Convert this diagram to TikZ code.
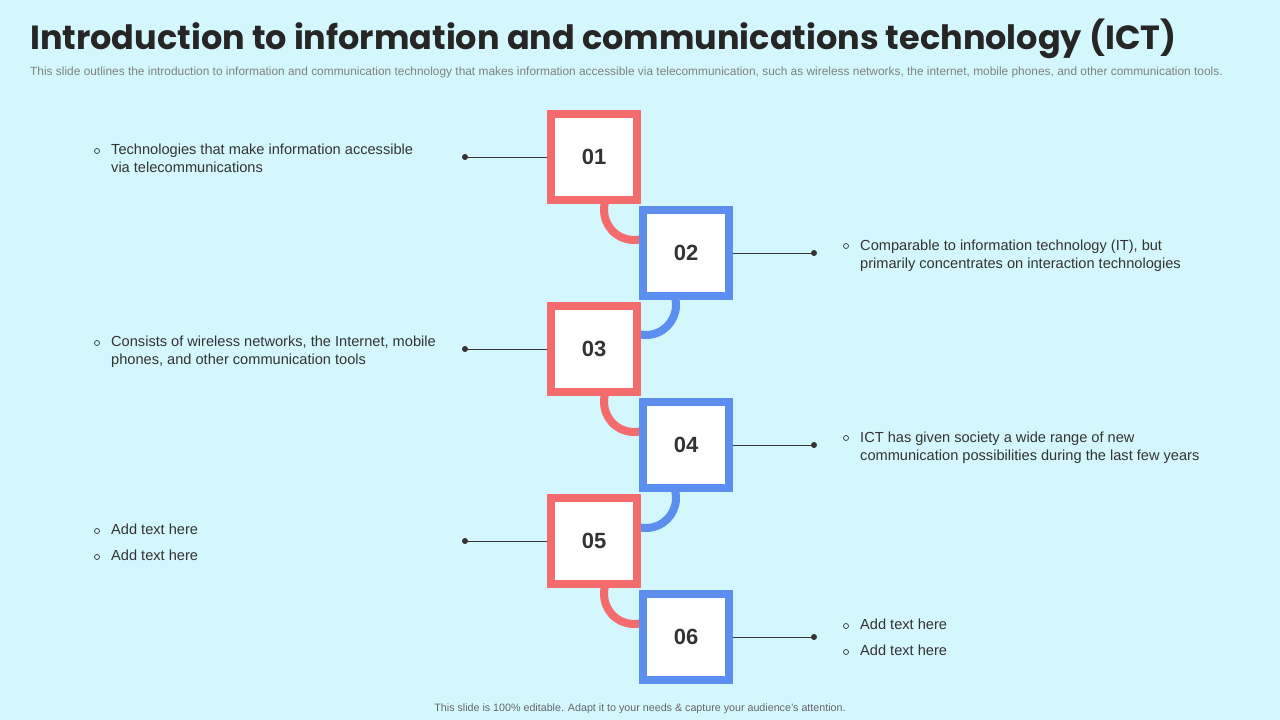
\documentclass[tikz,border=0pt]{standalone}
\usepackage{fontspec}
\setmainfont{Liberation Sans}
\newfontfamily\titlefont{Poppins}
\definecolor{bg}{HTML}{D3F7FC}
\definecolor{rd}{HTML}{F46B6B}
\definecolor{bl}{HTML}{5C8EF0}
\definecolor{tx}{HTML}{333333}
\begin{document}
\begin{tikzpicture}[x=1pt,y=-1pt,
 boxr/.style={draw=rd,line width=8pt,fill=white,minimum size=86pt,inner sep=0pt,font=\bfseries\fontsize{22}{24}\selectfont,text=tx},
 boxb/.style={boxr,draw=bl},
 lead/.style={draw=tx,line width=0.8pt},
 dotn/.style={circle,fill=tx,inner sep=0pt,minimum size=6pt},
 txt/.style={anchor=north west,align=left,font=\fontsize{14.6}{18}\selectfont,text=tx,inner sep=0pt},
 bul/.style={circle,draw=tx,line width=0.7pt,inner sep=0pt,minimum size=5pt}]
\fill[bg] (0,0) rectangle (1280,720);
\useasboundingbox (0,0) rectangle (1280,720);
\node[anchor=west,inner sep=0pt,font=\titlefont\bfseries\fontsize{33.5}{36}\selectfont,text=black!85] (title) at (30,39) {Introduction to information and communications technology (ICT)};
\node[anchor=west,inner sep=0pt,font=\fontsize{11.9}{13}\selectfont,text=black!50] (sub) at (30,72) {This slide outlines the introduction to information and communication technology that makes information accessible via telecommunication, such as wireless networks, the internet, mobile phones, and other communication tools.};
\node[inner sep=0pt,font=\fontsize{10.7}{12}\selectfont,text=black!60] (foot) at (640,709) {This slide is 100\% editable.  Adapt it to your needs \& capture your audience's attention.};
% arcs
\foreach \y in {210,402,594}{
 \draw[rd,line width=8pt] (634,\y) ++(205:30) arc[start angle=205,end angle=20,radius=30];}
\foreach \y in {305,498}{
 \draw[bl,line width=8pt] (646,\y) ++(-100:30) arc[start angle=-100,end angle=170,radius=30];}
% boxes
\node[boxr] (b1) at (594,157) {01};
\node[boxb] (b2) at (686,253) {02};
\node[boxr] (b3) at (594,349) {03};
\node[boxb] (b4) at (686,445) {04};
\node[boxr] (b5) at (594,541) {05};
\node[boxb] (b6) at (686,637) {06};
% leads
\node[dotn] (d1) at (465,157) {}; \draw[lead] (d1) -- (b1.west);
\node[dotn] (d3) at (465,349) {}; \draw[lead] (d3) -- (b3.west);
\node[dotn] (d5) at (465,541) {}; \draw[lead] (d5) -- (b5.west);
\node[dotn] (d2) at (814,253) {}; \draw[lead] (b2.east) -- (d2);
\node[dotn] (d4) at (814,445) {}; \draw[lead] (b4.east) -- (d4);
\node[dotn] (d6) at (814,637) {}; \draw[lead] (b6.east) -- (d6);
% texts
\node[bul] (u1) at (97,151) {}; \node[txt] (t1) at (111,144) {Technologies that make information accessible\\via telecommunications};
\node[bul] (u3) at (97,343) {}; \node[txt] (t3) at (111,336) {Consists of wireless networks, the Internet, mobile\\phones, and other communication tools};
\node[bul] (u5a) at (97,531) {}; \node[txt] (t5a) at (111,524) {Add text here};
\node[bul] (u5b) at (97,557) {}; \node[txt] (t5b) at (111,550) {Add text here};
\node[bul] (u2) at (846,246) {}; \node[txt] (t2) at (860,240) {Comparable to information technology (IT), but\\primarily concentrates on interaction technologies};
\node[bul] (u4) at (846,438) {}; \node[txt] (t4) at (860,432) {ICT has given society a wide range of new\\communication possibilities during the last few years};
\node[bul] (u6a) at (846,626) {}; \node[txt] (t6a) at (860,619) {Add text here};
\node[bul] (u6b) at (846,652) {}; \node[txt] (t6b) at (860,645) {Add text here};
\end{tikzpicture}
\end{document}
